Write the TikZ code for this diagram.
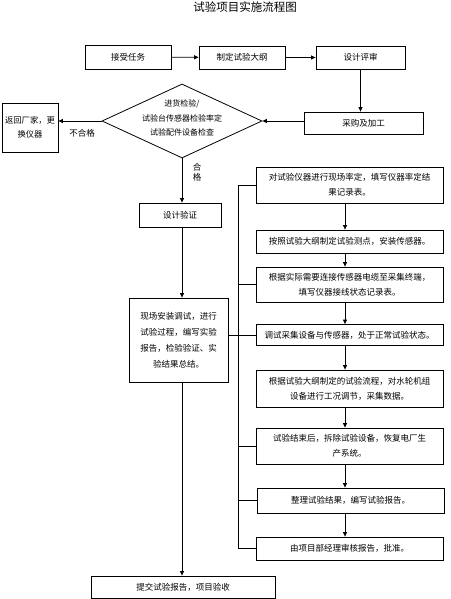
\documentclass[tikz,border=0pt]{standalone}
\usepackage{fontspec}
\setmainfont{Noto Sans CJK SC}
\usetikzlibrary{arrows.meta,shapes.geometric}
\begin{document}
\begin{tikzpicture}[x=1pt,y=-1pt,
  line width=0.8pt,
  box/.style={draw,rectangle,inner sep=0pt,align=center,font=\fontsize{8.5}{15}\selectfont},
  rbox/.style={box,minimum width=187pt},
  txt/.style={inner sep=0pt,align=center,font=\fontsize{8.5}{15}\selectfont},
  arr/.style={-{Triangle[length=4.5pt,width=4pt]}},
  conn/.style={}
]
\useasboundingbox (0,0) rectangle (450,599);
\node[inner sep=0pt,font=\fontsize{11.5}{13}\selectfont] (title) at (245,7) {试验项目实施流程图};
% top row
\node[box,minimum width=86pt,minimum height=24pt] (n1) at (128,57) {接受任务};
\node[box,minimum width=86pt,minimum height=23pt] (n2) at (242,57.5) {制定试验大纲};
\node[box,minimum width=89pt,minimum height=23pt] (n3) at (360.5,57.5) {设计评审};
\node[box,minimum width=119pt,minimum height=22pt] (n4) at (363.5,123) {采购及加工};
% diamond
\node[draw,diamond,inner sep=0pt,minimum width=160pt,minimum height=74pt] (dia) at (182,121) {};
\node[txt,font=\fontsize{8}{14.5}\selectfont] (diatext) at (182,118) {进货检验/\\试验台传感器检验率定\\试验配件设备检查};
\node[box,minimum width=56pt,minimum height=49pt,font=\fontsize{8.3}{14}\selectfont] (n5) at (30,127.5) {返回厂家，更\\换仪器};
\node[txt] (bhg) at (82,133) {不合格};
\node[txt,font=\fontsize{8.5}{10}\selectfont] (hg) at (197,172) {合\\格};
% left column
\node[box,minimum width=82pt,minimum height=24pt] (n6) at (180,215) {设计验证};
\node[box,minimum width=99pt,minimum height=84pt,font=\fontsize{8.5}{16}\selectfont] (n7) at (178.5,340) {现场安装调试，进行\\试验过程，编写实验\\报告，检验验证、实\\验结果总结。};
\node[box,minimum width=184pt,minimum height=22pt] (n8) at (183,587) {提交试验报告，项目验收};
% right column
\node[rbox,minimum height=36pt] (r1) at (349.5,185) {对试验仪器进行现场率定，填写仪器率定结\\果记录表。};
\node[rbox,minimum height=23pt] (r2) at (349.5,241.5) {按照试验大纲制定试验测点，安装传感器。};
\node[rbox,minimum height=35pt] (r3) at (349.5,284.5) {根据实际需要连接传感器电缆至采集终端，\\填写仪器接线状态记录表。};
\node[rbox,minimum height=21pt] (r4) at (349.5,335) {调试采集设备与传感器，处于正常试验状态。};
\node[rbox,minimum height=37pt] (r5) at (349.5,388.5) {根据试验大纲制定的试验流程，对水轮机组\\设备进行工况调节，采集数据。};
\node[rbox,minimum height=36pt] (r6) at (349.5,446) {试验结束后，拆除试验设备，恢复电厂生\\产系统。};
\node[rbox,minimum height=25pt] (r7) at (350.5,500.5) {整理试验结果，编写试验报告。};
\node[rbox,minimum height=23pt] (r8) at (349.5,548.5) {由项目部经理审核报告，批准。};
\coordinate (bus) at (238,0);
% connectors
\draw[arr] (n1) -- (n2);
\draw[arr] (n2) -- (n3);
\draw[arr] (n3.south) -- (n3.south |- n4.north);
\draw[arr] (n4.west |- dia.east) -- (dia.east);
\draw[arr] (dia.west) -- (n5.east |- dia.west);
\draw[arr] (dia.south) -- (dia.south |- n6.north);
\draw[arr] (n6.south -| dia.south) -- (n7.north -| dia.south);
\draw[arr] (n7.south -| dia.south) -- (n8.north -| dia.south);
\draw[arr] (r1.south -| 345,0) -- (r2.north -| 345,0);
\draw[arr] (r2.south -| 345,0) -- (r3.north -| 345,0);
\draw[arr] (r3.south -| 345,0) -- (r4.north -| 345,0);
\draw[arr] (r4.south -| 345,0) -- (r5.north -| 345,0);
\draw[arr] (r5.south -| 345,0) -- (r6.north -| 345,0);
\draw[arr] (r6.south -| 345,0) -- (r7.north -| 345,0);
\draw[arr] (r7.south -| 345,0) -- (r8.north -| 345,0);
% bracket
\draw (r1.west -| bus) -- (r8.west -| bus);
\draw (r1.west) -- (r1.west -| bus);
\draw (r3.west) -- (r3.west -| bus);
\draw (r4.west) -- (r4.west -| n7.east);
\draw (r6.west) -- (r6.west -| bus);
\draw (r7.west) -- (r7.west -| bus);
\draw (r8.west) -- (r8.west -| bus);
\end{tikzpicture}
\end{document}
